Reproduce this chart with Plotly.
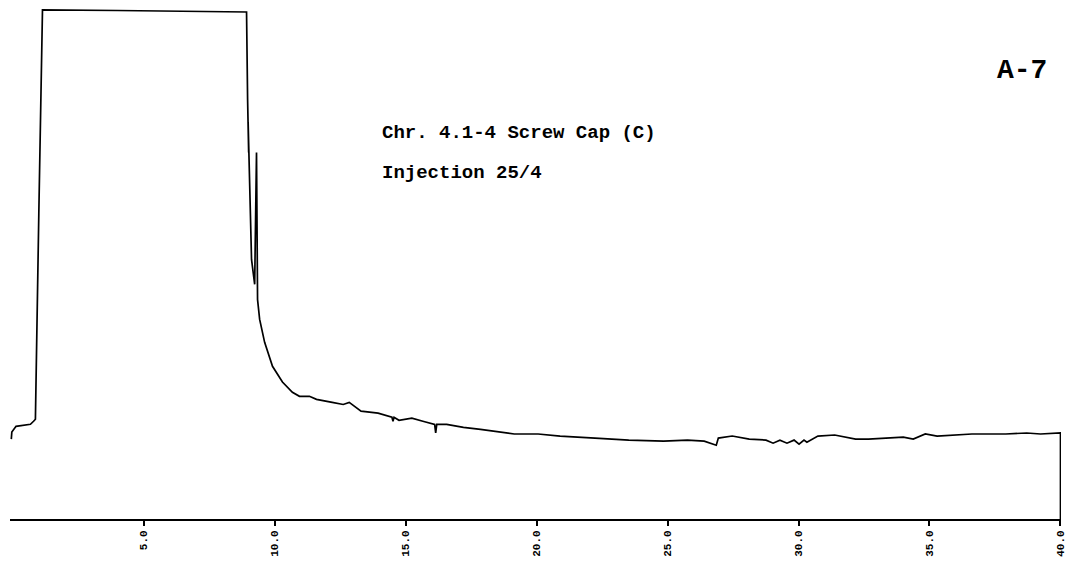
import plotly.graph_objects as go

# Retention time (min) and detector response (arbitrary units, 100 = off-scale)
time_min = [-0.05, -0.03, 0.13, 0.68, 0.80, 0.87, 1.00, 1.14, 4.0, 8.93,
            8.97, 9.01, 8.99, 9.12, 9.24, 9.31, 9.33, 9.35, 9.43, 9.62,
            9.92, 10.30, 10.68, 10.95, 11.33, 11.60, 12.20, 12.62, 12.85, 13.30,
            13.95, 14.48, 14.52, 14.56, 14.75, 15.24, 15.66, 16.11, 16.15, 16.19,
            16.57, 17.21, 17.86, 18.50, 19.15, 20.06, 20.90, 22.23, 23.52, 24.85,
            25.76, 26.40, 26.67, 26.86, 26.94, 27.47, 28.12, 28.76, 29.03, 29.29,
            29.56, 29.83, 30.02, 30.21, 30.32, 30.74, 31.38, 32.18, 32.67, 34.00,
            34.38, 34.84, 35.29, 36.62, 37.91, 38.71, 39.24, 40.0, 40.0]
response = [15.7, 17.1, 18.2, 18.6, 19.2, 19.6, 60.0, 100.0, 99.9, 99.6,
            82.4, 72.0, 78.0, 51.0, 46.1, 72.0, 45.1, 43.1, 39.2, 34.7,
            30.0, 26.9, 24.9, 24.1, 24.1, 23.5, 22.9, 22.5, 22.9, 21.2,
            20.8, 20.0, 19.2, 20.0, 19.4, 19.8, 19.2, 18.6, 16.9, 18.6,
            18.6, 18.0, 17.6, 17.1, 16.7, 16.7, 16.3, 15.9, 15.5, 15.3,
            15.5, 15.3, 14.9, 14.5, 15.9, 16.3, 15.7, 15.5, 14.9, 15.5,
            14.9, 15.5, 14.7, 15.5, 15.1, 16.3, 16.5, 15.7, 15.7, 16.1,
            15.7, 16.7, 16.3, 16.7, 16.7, 16.9, 16.7, 16.9, 0.0]

tick_vals = [5, 10, 15, 20, 25, 30, 35, 40]
tick_text = ["5.0", "10.0", "15.0", "20.0", "25.0", "30.0", "35.0", "40.0"]

title_line1 = "Chr. 4.1-4 Screw Cap (C)"
title_line2 = "Injection 25/4"
figure_id = "A-7"

fig = go.Figure()
fig.add_trace(go.Scatter(
    x=time_min, y=response, mode="lines",
    line=dict(color="black", width=1.7),
    showlegend=False, hoverinfo="skip",
))

mono = "Liberation Mono, Courier New, monospace"
fig.add_annotation(x=0.352, y=0.744, xref="paper", yref="paper", text="<b>" + title_line1 + "</b>",
                   showarrow=False, xanchor="left", yanchor="middle",
                   font=dict(family=mono, size=19, color="black"))
fig.add_annotation(x=0.352, y=0.667, xref="paper", yref="paper", text="<b>" + title_line2 + "</b>",
                   showarrow=False, xanchor="left", yanchor="middle",
                   font=dict(family=mono, size=19, color="black"))
fig.add_annotation(x=0.937, y=0.865, xref="paper", yref="paper", text="<b>" + figure_id + "</b>",
                   showarrow=False, xanchor="left", yanchor="middle",
                   font=dict(family=mono, size=28, color="black"))

fig.update_layout(
    width=1068, height=562,
    margin=dict(l=10, r=7, t=0, b=43),
    paper_bgcolor="white", plot_bgcolor="white",
    xaxis=dict(range=[-0.1, 40.02], showgrid=False, zeroline=False, automargin=False,
               showline=True, linecolor="black", linewidth=2,
               ticks="outside", ticklen=5, tickwidth=1.5, tickcolor="black",
               tickvals=tick_vals, ticktext=["<b>" + t + "</b>" for t in tick_text],
               ticklabeloverflow="allow",
               tickangle=-90, tickfont=dict(family=mono, size=11, color="black")),
    yaxis=dict(range=[0, 101.96], visible=False, showgrid=False, zeroline=False, automargin=False),
)

fig.write_html("out.html")
